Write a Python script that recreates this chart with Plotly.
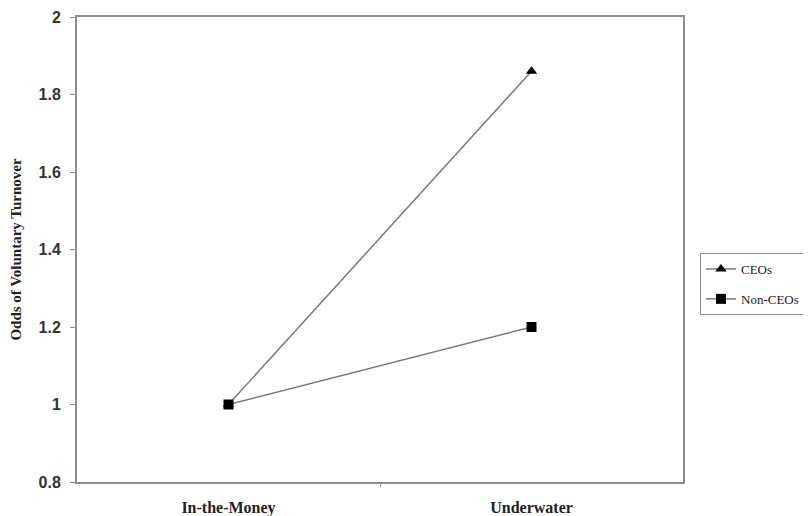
import plotly.graph_objects as go

categories = ["In-the-Money", "Underwater"]
ceo_values = [1.0, 1.86]
nonceo_values = [1.0, 1.2]
y_ticks = [0.8, 1, 1.2, 1.4, 1.6, 1.8, 2]
y_tick_labels = ["0.8", "1", "1.2", "1.4", "1.6", "1.8", "2"]

x_idx = list(range(len(categories)))

fig = go.Figure()
fig.add_trace(go.Scatter(
    x=x_idx, y=ceo_values, name="CEOs", mode="lines+markers", legendgroup="a",
    line=dict(color="#7a7a7a", width=1.5),
    marker=dict(symbol="triangle-up", size=10, color="black"),
))
fig.add_trace(go.Scatter(
    x=x_idx, y=nonceo_values, name="Non-CEOs", mode="lines+markers", legendgroup="b",
    line=dict(color="#7a7a7a", width=1.5),
    marker=dict(symbol="square", size=10, color="black"),
))
# invisible trace on overlay axis to draw the category-boundary tick
fig.add_trace(go.Scatter(x=[-0.5, 1.5], y=[0.8, 0.8], xaxis="x2", mode="markers",
                         marker=dict(opacity=0), showlegend=False, hoverinfo="skip"))

axis_col = "#8c8c8c"
serif = "Liberation Serif, Times New Roman, serif"
# page body adds an ~8px offset, so the figure is sized to fit the window
fig.update_layout(
    width=803, height=508,
    margin=dict(l=69, r=128, t=9, b=34, autoexpand=False),
    paper_bgcolor="white", plot_bgcolor="white",
    showlegend=True,
    legend=dict(
        x=(692 - 69) / 606, y=(474 - 245) / 465, xanchor="left", yanchor="top",
        bordercolor=axis_col, borderwidth=1,
        font=dict(family=serif, size=13, color="#222"),
        traceorder="grouped", tracegroupgap=10,
        entrywidth=120, entrywidthmode="pixels",
    ),
    xaxis=dict(
        range=[-0.5, 1.5], tickvals=x_idx, ticktext=categories, ticks="",
        showgrid=False, zeroline=False, showline=True, linecolor=axis_col, linewidth=2,
        mirror=True, automargin=False,
        tickfont=dict(family=serif, size=16, color="#222", weight="bold"),
        ticklabelstandoff=10,
    ),
    xaxis2=dict(
        overlaying="x", range=[-0.5, 1.5], tickvals=[0.5], ticks="outside",
        ticklen=4, tickcolor=axis_col, showticklabels=False, showgrid=False,
        zeroline=False, showline=False, anchor="y", side="bottom", automargin=False,
    ),
    yaxis=dict(
        range=[0.8, 2.0], tickvals=y_ticks, ticktext=y_tick_labels,
        ticks="outside", ticklen=5, tickcolor=axis_col,
        showgrid=False, zeroline=False, showline=True, linecolor=axis_col, linewidth=2,
        mirror=True, automargin=False,
        tickfont=dict(family="Liberation Sans, Arial, sans-serif", size=16, color="#333", weight="bold"),
        ticklabelstandoff=6,
        title=dict(text="<b>Odds of Voluntary Turnover</b>", standoff=30,
                   font=dict(family=serif, size=15, color="#222")),
    ),
)

fig.write_html("out.html")
